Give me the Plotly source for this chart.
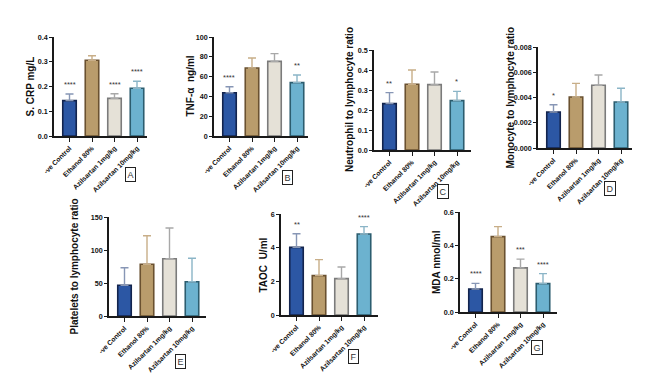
import plotly.graph_objects as go

W, H = 649, 377

categories = ["-ve Control", "Ethanol 80%", "Azilsartan 1mg/kg", "Azilsartan 10mg/kg"]

# Panel A: S. CRP
crp_mean = [0.143, 0.306, 0.152, 0.193]
crp_sem = [0.027, 0.018, 0.019, 0.028]
crp_sig = ["****", "", "****", "****"]
# Panel B: TNF-alpha
tnf_mean = [43.7, 68.7, 75.4, 53.9]
tnf_sem = [6.1, 10.1, 7.8, 7.7]
tnf_sig = ["****", "", "", "**"]
# Panel C: Neutrophil / lymphocyte
nlr_mean = [0.232, 0.329, 0.327, 0.247]
nlr_sem = [0.055, 0.071, 0.063, 0.046]
nlr_sig = ["**", "", "", "*"]
# Panel D: Monocyte / lymphocyte
mlr_mean = [0.00285, 0.00404, 0.00497, 0.00364]
mlr_sem = [0.00058, 0.00108, 0.00081, 0.00109]
mlr_sig = ["*", "", "", ""]
# Panel E: Platelets / lymphocyte
plr_mean = [46.5, 78.3, 86.8, 52.0]
plr_sem = [26.7, 43.4, 46.5, 35.4]
plr_sig = ["", "", "", ""]
# Panel F: TAOC
taoc_mean = [4.02, 2.34, 2.16, 4.81]
taoc_sem = [0.81, 0.95, 0.69, 0.44]
taoc_sig = ["**", "", "", "****"]
# Panel G: MDA
mda_mean = [0.138, 0.452, 0.265, 0.170]
mda_sem = [0.034, 0.060, 0.052, 0.060]
mda_sig = ["****", "", "***", "****"]

a_ticks = [0, 0.1, 0.2, 0.3, 0.4]
a_labels = ["0.0", "0.1", "0.2", "0.3", "0.4"]
b_ticks = [0, 20, 40, 60, 80, 100]
b_labels = ["0", "20", "40", "60", "80", "100"]
c_ticks = [0, 0.1, 0.2, 0.3, 0.4, 0.5]
c_labels = ["0.0", "0.1", "0.2", "0.3", "0.4", "0.5"]
d_ticks = [0, 0.002, 0.004, 0.006, 0.008]
d_labels = ["0.000", "0.002", "0.004", "0.006", "0.008"]
e_ticks = [0, 50, 100, 150]
e_labels = ["0", "50", "100", "150"]
f_ticks = [0, 2, 4, 6]
f_labels = ["0", "2", "4", "6"]
g_ticks = [0, 0.2, 0.4, 0.6]
g_labels = ["0.0", "0.2", "0.4", "0.6"]

panels = [
    dict(mean=crp_mean, sem=crp_sem, sig=crp_sig, ticks=a_ticks, labels=a_labels,
         title="S. CRP mg/L", letter="A",
         x0=46, x1=139, yt=29, yb=128, tx=22, box=(122, 166)),
    dict(mean=tnf_mean, sem=tnf_sem, sig=tnf_sig, ticks=b_ticks, labels=b_labels,
         title="TNF-α  ng/ml", letter="B",
         x0=206, x1=300, yt=29, yb=128, tx=182, box=(279, 169)),
    dict(mean=nlr_mean, sem=nlr_sem, sig=nlr_sig, ticks=c_ticks, labels=c_labels,
         title="Neutrophil to lymphocyte ratio", letter="C",
         x0=366, x1=463, yt=42, yb=142, tx=342, box=(435, 183)),
    dict(mean=mlr_mean, sem=mlr_sem, sig=mlr_sig, ticks=d_ticks, labels=d_labels,
         title="Monocyte to lymphocyte ratio", letter="D",
         x0=530, x1=624, yt=39, yb=140, tx=502, box=(602, 181)),
    dict(mean=plr_mean, sem=plr_sem, sig=plr_sig, ticks=e_ticks, labels=e_labels,
         title="Platelets to lymphocyte ratio", letter="E",
         x0=101, x1=198, yt=209, yb=308, tx=66, box=(172, 353)),
    dict(mean=taoc_mean, sem=taoc_sem, sig=taoc_sig, ticks=f_ticks, labels=f_labels,
         title="TAOC  U/ml", letter="F",
         x0=273, x1=370, yt=206, yb=307, tx=255, box=(345, 348)),
    dict(mean=mda_mean, sem=mda_sem, sig=mda_sig, ticks=g_ticks, labels=g_labels,
         title="MDA nmol/ml", letter="G",
         x0=452, x1=549, yt=204, yb=304, tx=428, box=(529, 339)),
]

fills = ["#2c57a4", "#b99c6c", "#e5e1d7", "#6cb2cf"]
edges = ["#13244d", "#6a5130", "#7b7b7b", "#2c5d6f"]
errc = ["#8796b5", "#c8ae88", "#a8a8a8", "#8bb5c7"]

FONT = "Liberation Sans"
AX = "#1a1a1a"


def bold(s):
    return "<b>" + s + "</b>"


fig = go.Figure()
annotations = []
layout = {}
first_px, spacing = 15.5, 22.5

for i, p in enumerate(panels):
    n = i + 1
    xa = "x" if n == 1 else f"x{n}"
    ya = "y" if n == 1 else f"y{n}"
    for j, cat in enumerate(categories):
        fig.add_trace(go.Bar(
            x=[cat], y=[p["mean"][j]], xaxis=xa, yaxis=ya,
            width=0.6, showlegend=False, hoverinfo="skip",
            marker=dict(color=fills[j], line=dict(color=edges[j], width=1.6)),
            error_y=dict(type="data", symmetric=False, array=[p["sem"][j]],
                         arrayminus=[0], color=errc[j], thickness=1.4, width=4),
        ))
        if p["sig"][j]:
            annotations.append(dict(
                x=cat, y=p["mean"][j] + p["sem"][j], xref=xa, yref=ya,
                text=p["sig"][j], showarrow=False, yanchor="bottom", yshift=3,
                font=dict(family=FONT, size=7.5, color="#333333"),
            ))
    width_px = p["x1"] - p["x0"]
    lo = -first_px / spacing
    hi = lo + width_px / spacing
    xkey = "xaxis" if n == 1 else f"xaxis{n}"
    ykey = "yaxis" if n == 1 else f"yaxis{n}"
    layout[xkey] = dict(
        domain=[p["x0"] / W, p["x1"] / W], anchor=ya, type="category",
        categoryorder="array", categoryarray=categories, range=[lo, hi],
        tickmode="array", tickvals=categories, ticktext=[bold(c) for c in categories],
        tickangle=-45, ticks="outside", ticklen=4, tickwidth=1.2, tickcolor=AX,
        showline=True, linecolor=AX, linewidth=1.5, showgrid=False, zeroline=False,
        tickfont=dict(family=FONT, size=6.8, color="#111111"),
        automargin=False, fixedrange=True,
    )
    layout[ykey] = dict(
        domain=[1 - p["yb"] / H, 1 - p["yt"] / H], anchor=xa,
        range=[0, p["ticks"][-1]], tickmode="array", tickvals=p["ticks"],
        ticktext=[bold(t) for t in p["labels"]],
        ticks="outside", ticklen=3, tickwidth=1.2, tickcolor=AX,
        showline=True, linecolor=AX, linewidth=1.5, showgrid=False, zeroline=False,
        tickfont=dict(family=FONT, size=7.2, color="#111111"),
        automargin=False, fixedrange=True,
    )
    annotations.append(dict(
        x=p["tx"] / W, y=1 - ((p["yt"] + p["yb"]) / 2) / H, xref="paper", yref="paper",
        text=bold(p["title"]), textangle=-90, showarrow=False,
        xanchor="center", yanchor="middle",
        font=dict(family=FONT, size=10, color="#111111"),
    ))
    annotations.append(dict(
        x=p["box"][0] / W, y=1 - p["box"][1] / H, xref="paper", yref="paper",
        text=p["letter"], showarrow=False, xanchor="center", yanchor="middle",
        bordercolor="#222222", borderwidth=1, borderpad=1.5,
        font=dict(family=FONT, size=9, color="#333333"),
    ))

fig.update_layout(
    width=W, height=H, autosize=False,
    margin=dict(l=0, r=0, t=0, b=0),
    paper_bgcolor="white", plot_bgcolor="white",
    barmode="overlay", bargap=0.2,
    annotations=annotations,
    **layout,
)

fig.write_html("out.html")
